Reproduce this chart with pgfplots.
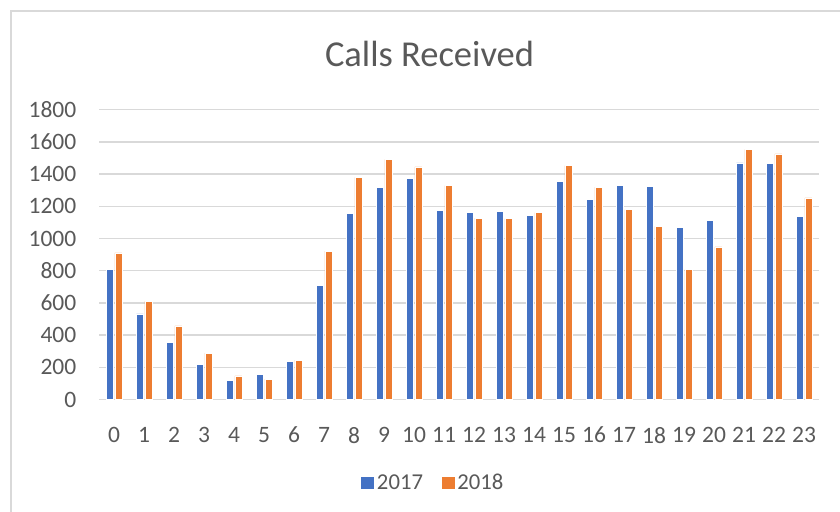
\documentclass[border=0pt]{standalone}
\usepackage{pgfplots}
\pgfplotsset{compat=1.18}
\usepackage{fontspec}
\setmainfont{Carlito}
\definecolor{cblue}{HTML}{4472C4}
\definecolor{corange}{HTML}{ED7D31}
\definecolor{cgrid}{HTML}{D9D9D9}
\definecolor{ctext}{HTML}{595959}
\begin{document}
\begin{tikzpicture}[x=1bp,y=1bp]
\useasboundingbox (0,0) rectangle (840,512);
\draw[cgrid, line width=1.3bp] (11,0) -- (11,501) -- (840,501);
\node[font=\fontsize{36.5bp}{42bp}\selectfont, text=ctext, anchor=base] at (429.5,445) {Calls Received};
\begin{axis}[
  at={(99bp,112.5bp)}, anchor=south west,
  scale only axis, width=720bp, height=289.8bp,
  xmin=-0.5, xmax=23.5, ymin=0, ymax=1800,
  ytick={0,200,...,1800},
  xtick={0,...,23},
  axis line style={draw=none},
  tick style={draw=none},
  ymajorgrids, grid style={cgrid, line width=1.5bp},
  ticklabel style={font=\fontsize{23.5bp}{28bp}\selectfont, text=ctext},
  /pgf/number format/assume math mode=true,
  /pgf/number format/1000 sep={},
  yticklabel style={anchor=east, inner sep=0pt, xshift=-22.5bp},
  xticklabel style={anchor=north, inner sep=0pt, yshift=-23bp},
  ybar, bar width=7bp,
  legend columns=2,
  legend style={draw=none, fill=none, at={(0.4639,-0.288)}, anchor=center,
    font=\fontsize{22.7bp}{27bp}\selectfont, text=ctext,
    nodes={inner xsep=2.5bp},
    /tikz/every even column/.append style={column sep=15bp},
    cells={anchor=west}},
  legend image code/.code={\fill[#1] (0bp,-6.5bp) rectangle (14bp,6.5bp);},
]
\addplot[fill=cblue, draw=white, line width=0.4bp, bar shift=-4.25bp] coordinates {
(0,809) (1,532) (2,354) (3,219) (4,118) (5,157) (6,238) (7,708)
(8,1155) (9,1319) (10,1373) (11,1176) (12,1164) (13,1170) (14,1145)
(15,1356) (16,1242) (17,1331) (18,1323) (19,1070) (20,1112) (21,1470) (22,1468) (23,1137)};
\addplot[fill=corange, draw=white, line width=0.4bp, bar shift=4.25bp] coordinates {
(0,911) (1,611) (2,458) (3,288) (4,147) (5,126) (6,244) (7,921)
(8,1379) (9,1491) (10,1445) (11,1329) (12,1126) (13,1124) (14,1161)
(15,1453) (16,1319) (17,1180) (18,1075) (19,807) (20,948) (21,1553) (22,1526) (23,1253)};
\legend{2017,2018}
\end{axis}
\end{tikzpicture}
\end{document}
